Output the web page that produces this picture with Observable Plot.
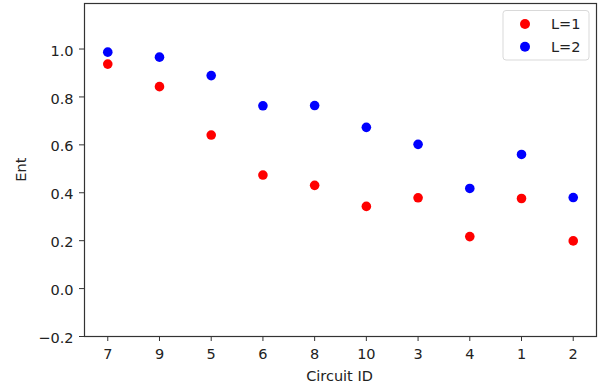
<!DOCTYPE html>
<html>
<head>
<meta charset="utf-8">
<script src="https://cdn.jsdelivr.net/npm/d3@7"></script>
<script src="https://cdn.jsdelivr.net/npm/@observablehq/plot@0.6"></script>
<style>
  body { margin: 0; background: #fff; }
  #wrap { position: relative; width: 603px; height: 387px; font-family: "DejaVu Sans", sans-serif; }
  text.lg-label { text-anchor: start !important; }
</style>
</head>
<body>
<div id="wrap"></div>
<script>
const circuits = ["7", "9", "5", "6", "8", "10", "3", "4", "1", "2"];
const entL1 = [0.937, 0.843, 0.641, 0.474, 0.431, 0.343, 0.379, 0.217, 0.376, 0.199];
const entL2 = [0.987, 0.966, 0.889, 0.763, 0.764, 0.673, 0.602, 0.418, 0.560, 0.380];
const seriesNames = ["L=1", "L=2"];
const seriesColors = ["#ff0000", "#0000ff"];
const yTicks = [-0.2, 0.0, 0.2, 0.4, 0.6, 0.8, 1.0];

const data = [];
circuits.forEach((c, i) => {
  data.push({circuit: c, ent: entL1[i], series: seriesNames[0]});
});
circuits.forEach((c, i) => {
  data.push({circuit: c, ent: entL2[i], series: seriesNames[1]});
});

const FS = "14.5px";
const TXT = "#222";

const chart = Plot.plot({
  width: 603,
  height: 387,
  marginLeft: 84,
  marginRight: 7,
  marginTop: 3,
  marginBottom: 51,
  style: {fontFamily: "DejaVu Sans, sans-serif", fontSize: FS, color: TXT, background: "#fff"},
  x: {type: "point", domain: circuits, padding: 0.45, round: false, label: null},
  y: {domain: [-0.2, 1.19], label: null},
  color: {domain: seriesNames, range: seriesColors},
  marks: [
    Plot.frame({stroke: "#333", strokeWidth: 1.2}),
    Plot.axisX({ticks: circuits, tickSize: 5, tickPadding: 7, stroke: "#333", fill: TXT, label: null}),
    Plot.axisY({ticks: yTicks, tickSize: 5, stroke: "#333", tickFormat: () => "", label: null}),
    Plot.axisY({ticks: yTicks, tickSize: 0, tickPadding: 11, dy: 2, fill: TXT,
      tickFormat: d => d3.format(".1f")(d).replace("-", "\u2212"), label: null}),
    Plot.dot(data, {x: "circuit", y: "ent", fill: "series", r: 4.8, stroke: null})
  ]
});
const wrap = document.getElementById("wrap");
wrap.appendChild(chart);

const svg = d3.select(chart);
// Axis titles
svg.append("text").attr("x", 339.5).attr("y", 380.5).attr("text-anchor", "middle")
  .attr("font-size", FS).attr("fill", TXT).text("Circuit ID");
svg.append("text").attr("transform", "translate(26,169.7) rotate(-90)").attr("text-anchor", "middle")
  .attr("font-size", FS).attr("fill", TXT).text("Ent");

// Legend
const lg = svg.append("g").attr("text-anchor", "start");
lg.append("rect").attr("x", 503).attr("y", 10.5).attr("width", 86).attr("height", 49.5)
  .attr("rx", 3).attr("fill", "rgba(255,255,255,0.8)").attr("stroke", "#d9d9d9").attr("stroke-width", 1);
seriesNames.forEach((name, i) => {
  const cy = 24 + i * 22.7;
  lg.append("circle").attr("cx", 525).attr("cy", cy).attr("r", 5).attr("fill", seriesColors[i]);
  lg.append("text").attr("class", "lg-label").attr("x", 551).attr("y", cy + 5.3)
    .attr("text-anchor", "start").style("text-anchor", "start")
    .attr("font-size", FS).attr("fill", TXT).text(name);
});
</script>
</body>
</html>
